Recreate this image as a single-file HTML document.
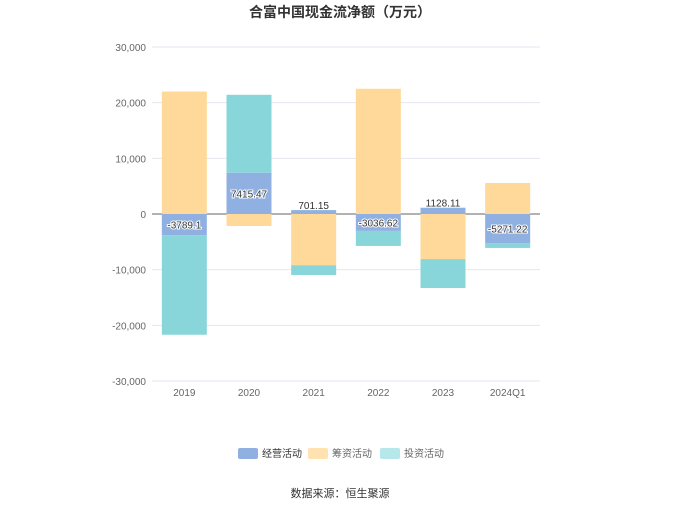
<!DOCTYPE html>
<html><head><meta charset="utf-8"><style>
body{margin:0;background:#fff;font-family:"Liberation Sans","Noto Sans CJK SC",sans-serif;}
svg text{font-family:"Liberation Sans","Noto Sans CJK SC",sans-serif;}
</style></head><body>
<svg id="c" width="680" height="509">
<text x="340" y="17" text-anchor="middle" font-size="14" font-weight="bold" fill="#333">合富中国现金流净额（万元）</text>
<g id="grid"></g><g id="bars"></g><g id="labels"></g>
<g>
<g><rect x="238" y="448" width="20" height="11" rx="2" fill="#8fb0e1"/><text x="262" y="457" font-size="10" fill="#333">经营活动</text></g>
<g><rect x="308" y="448" width="20" height="11" rx="2" fill="#ffe2b0"/><text x="332" y="457" font-size="10" fill="#666">筹资活动</text></g>
<g><rect x="380" y="448" width="20" height="11" rx="2" fill="#b6e7ea"/><text x="404" y="457" font-size="10" fill="#666">投资活动</text></g>
</g>
<text x="340" y="497" text-anchor="middle" font-size="11" fill="#333">数据来源：恒生聚源</text>
</svg>
<script>
const categories=["2019","2020","2021","2022","2023","2024Q1"];
const operating=[-3789.10,7415.47,701.15,-3036.62,1128.11,-5271.22];
const financing=[22000,-2150,-9200,22500,-8100,5570];
const investing=[-17900,14000,-1750,-2700,-5200,-830];
const yTicks=[30000,20000,10000,0,-10000,-20000,-30000];
const tickLabels=["30,000","20,000","10,000","0","-10,000","-20,000","-30,000"];
const ns="http://www.w3.org/2000/svg";
const x0=152,x1=540,yTop=47,yBot=381,yMin=-30000,yMax=30000;
const y=v=>yTop+(yMax-v)/(yMax-yMin)*(yBot-yTop);
const bw=(x1-x0)/categories.length;
const bx=i=>x0+bw*i+bw/2;
function mk(tag,attrs,parent){const e=document.createElementNS(ns,tag);for(const k in attrs)e.setAttribute(k,attrs[k]);parent.appendChild(e);return e;}
const grid=document.getElementById('grid'),bars=document.getElementById('bars'),labels=document.getElementById('labels');
yTicks.forEach((t,i)=>{
 const l=mk('line',{x1:x0,x2:x1,y1:y(t),y2:y(t),stroke:t===0?'#666':'#e6e6f0','stroke-width':1},grid);
 
 
 const tx=mk('text',{x:x0-6,y:y(t)+4,'text-anchor':'end','font-size':10,fill:'#666'},grid);
 tx.textContent=tickLabels[i];
 
 
});
categories.forEach((c,i)=>{
 const tx=mk('text',{x:bx(i),y:396,'text-anchor':'middle','font-size':10,fill:'#666'},grid);
 tx.textContent=c;
 
 
 let pos=0,neg=0;
 [[operating,'#8fb0e1','operating'],[financing,'#ffd99a','financing'],[investing,'#88d6da','investing']].forEach(([arr,col,nm])=>{
  const v=arr[i];let a,b;
  if(v>=0){a=pos;b=pos+v;pos=b;}else{a=neg;b=neg+v;neg=b;}
  const r=mk('rect',{x:bx(i)-22.5,width:45,y:Math.min(y(a),y(b)),height:Math.abs(y(a)-y(b)),fill:col},bars);
  
  
 });
 const v=operating[i];
 const lt=mk('text',{x:bx(i),y:y(v/2)+4,'text-anchor':'middle','font-size':10,fill:'#333',stroke:'#fff','stroke-width':2,'paint-order':'stroke'},labels);
 lt.textContent=v.toFixed(2).replace(/0$/,'').replace(/\.$/,'');
 if(Math.abs(v)<2000) lt.setAttribute('y',y(Math.max(v,0))-1);
 
 
});
</script>
</body></html>
